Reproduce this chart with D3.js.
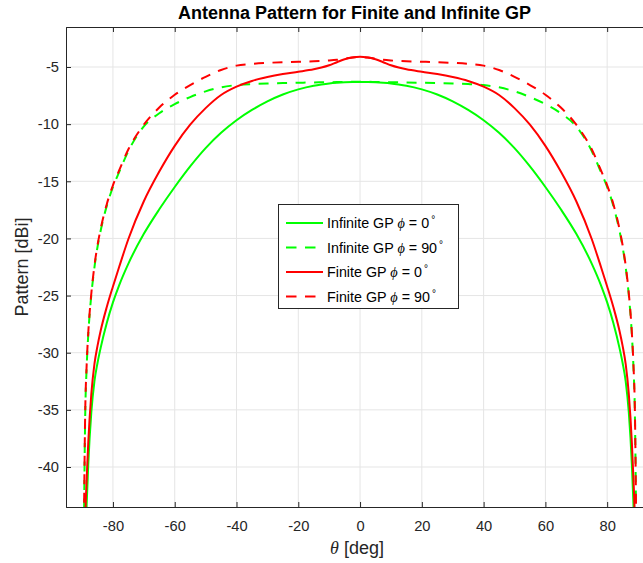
<!DOCTYPE html>
<html>
<head>
<meta charset="utf-8">
<script src="https://cdn.jsdelivr.net/npm/d3@7"></script>
<style>
  body { margin: 0; background: #fff; }
  text { font-family: "Liberation Sans", Arial, Helvetica, sans-serif; }
</style>
</head>
<body>
<svg id="chart" width="643" height="563"></svg>
<script>
// ---------- DATA ----------
// elevation angle theta [deg]
const theta = [-89.5,-89,-88.5,-88,-87,-86,-85,-84,-82,-80,-78,-75,-70,-65,-60,-55,-50,-45,-40,-35,-30,-25,-20,-15,-12.5,-10,-7.5,-5,-2.5,
               0,
               2.5,5,7.5,10,12.5,15,20,25,30,35,40,45,50,55,60,65,70,75,78,80,82,84,85,86,87,88,88.5,89,89.5];

const infiniteGP_phi0 = [-55,-48,-43.2,-39.8,-35.2,-32.5,-30.9,-29.6,-27.4,-25.6,-24.1,-22.2,-19.6,-17.45,-15.5,-13.7,-12.1,-10.76,-9.66,-8.76,-8.01,-7.41,-6.96,-6.64,-6.53,-6.44,-6.38,-6.34,-6.32,
                         -6.31,
                         -6.32,-6.34,-6.38,-6.44,-6.53,-6.64,-6.96,-7.41,-8.01,-8.76,-9.66,-10.76,-12.1,-13.7,-15.5,-17.45,-19.6,-22.2,-24.1,-25.6,-27.4,-29.6,-30.9,-32.5,-35.2,-39.8,-43.2,-48,-55];

const infiniteGP_phi90 = [-48.5,-35.8,-31.2,-28.45,-24.95,-22.55,-20.75,-19.35,-17.15,-15.5,-14.2,-12.35,-10.2,-9.05,-8.25,-7.63,-7.13,-6.78,-6.58,-6.49,-6.44,-6.41,-6.38,-6.35,-6.34,-6.33,-6.32,-6.31,-6.3,
                          -6.3,
                          -6.3,-6.31,-6.32,-6.33,-6.34,-6.35,-6.38,-6.41,-6.44,-6.49,-6.58,-6.78,-7.13,-7.63,-8.25,-9.05,-10.2,-12.35,-14.2,-15.5,-17.15,-19.35,-20.75,-22.55,-24.95,-28.45,-31.2,-35.8,-48.5];

const finiteGP_phi0 = [-54,-45,-41,-37.9,-33.6,-31.0,-29.4,-28.1,-26.0,-24.2,-22.5,-20.05,-16.75,-14.15,-11.9,-10.05,-8.6,-7.45,-6.72,-6.22,-5.88,-5.62,-5.42,-5.2,-5.05,-4.85,-4.58,-4.32,-4.17,
                       -4.10,
                       -4.17,-4.32,-4.58,-4.85,-5.05,-5.2,-5.42,-5.62,-5.88,-6.22,-6.72,-7.45,-8.6,-10.05,-11.9,-14.15,-16.75,-20.05,-22.5,-24.2,-26.0,-28.1,-29.4,-31.0,-33.6,-37.9,-41,-45,-54];

const finiteGP_phi90 = [-48,-35.5,-31.0,-28.3,-24.8,-22.4,-20.6,-19.2,-17.0,-15.35,-14.05,-12.2,-10.05,-8.55,-7.43,-6.58,-5.86,-5.26,-4.88,-4.73,-4.64,-4.58,-4.54,-4.5,-4.47,-4.43,-4.37,-4.27,-4.17,
                        -4.12,
                        -4.17,-4.27,-4.37,-4.43,-4.47,-4.5,-4.54,-4.58,-4.64,-4.73,-4.88,-5.26,-5.86,-6.58,-7.43,-8.55,-10.05,-12.2,-14.05,-15.35,-17.0,-19.2,-20.6,-22.4,-24.8,-28.3,-31.0,-35.5,-48];

const xTicks = [-80,-60,-40,-20,0,20,40,60,80];
const yTicks = [-40,-35,-30,-25,-20,-15,-10,-5];

const seriesNames = ["Infinite GP", "Infinite GP", "Finite GP", "Finite GP"];
const seriesPhi = ["0", "90", "0", "90"];
const seriesColors = ["#00ff00", "#00ff00", "#ff0000", "#ff0000"];
const seriesDashed = [false, true, false, true];

// ---------- LAYOUT ----------
const svg = d3.select("#chart");
const pL = 66, pR = 643, pT = 27, pB = 507;

const x = d3.scaleLinear().domain([-95.2, 91.6]).range([pL, pR]);
const y = d3.scaleLinear().domain([-43.5, -1.5]).range([pB, pT]);

const axisColor = "#262626";
const gridColor = "#e5e5e5";

svg.append("rect").attr("x", pL).attr("y", pT).attr("width", pR - pL).attr("height", pB - pT).attr("fill", "#fff");

// grid
const grid = svg.append("g");
grid.selectAll(".vg").data(xTicks).enter().append("line")
  .attr("x1", d => x(d)).attr("x2", d => x(d)).attr("y1", pT).attr("y2", pB)
  .attr("stroke", gridColor).attr("stroke-width", 1);
grid.selectAll(".hg").data(yTicks).enter().append("line")
  .attr("y1", d => y(d)).attr("y2", d => y(d)).attr("x1", pL).attr("x2", pR)
  .attr("stroke", gridColor).attr("stroke-width", 1);

// clip
svg.append("defs").append("clipPath").attr("id", "clip")
  .append("rect").attr("x", pL).attr("y", pT).attr("width", pR - pL).attr("height", pB - pT);

const allSeries = [infiniteGP_phi0, infiniteGP_phi90, finiteGP_phi0, finiteGP_phi90];
const line = d3.line().x(d => x(d[0])).y(d => y(d[1])).curve(d3.curveMonotoneX);

const plot = svg.append("g").attr("clip-path", "url(#clip)");
allSeries.forEach((vals, i) => {
  plot.append("path")
    .datum(theta.map((t, k) => [t, vals[k]]))
    .attr("d", line)
    .attr("fill", "none")
    .attr("stroke", seriesColors[i])
    .attr("stroke-width", 2)
    .attr("stroke-dasharray", seriesDashed[i] ? "10,8.5" : null);
});

// axes
const xAxisB = d3.axisBottom(x).tickValues(xTicks).tickSize(-5).tickPadding(14).tickFormat(d3.format("d"));
const xAxisT = d3.axisTop(x).tickValues(xTicks).tickSize(-5).tickFormat("");
const yAxisL = d3.axisLeft(y).tickValues(yTicks).tickSize(-5).tickPadding(7).tickFormat(d3.format("d"));

function styleAxis(g) {
  g.select(".domain").attr("stroke", axisColor).attr("stroke-width", 1);
  g.selectAll(".tick line").attr("stroke", axisColor);
  g.selectAll(".tick text").attr("fill", "#262626").attr("font-size", 14.7)
   .attr("font-family", "'Liberation Sans', Arial, sans-serif");
}
svg.append("g").attr("transform", `translate(0,${pB})`).call(xAxisB).call(styleAxis);
svg.append("g").attr("transform", `translate(0,${pT})`).call(xAxisT).call(styleAxis);
svg.append("g").attr("transform", `translate(${pL},0)`).call(yAxisL).call(styleAxis);

svg.selectAll(".tick text").text(function() { return d3.select(this).text().replace("−", "-"); });

// title
svg.append("text").attr("x", (pL + pR) / 2).attr("y", 19)
  .attr("text-anchor", "middle").attr("font-weight", "bold").attr("font-size", 18)
  .attr("fill", "#000").text("Antenna Pattern for Finite and Infinite GP");

// x label
const xl = svg.append("text").attr("x", 357).attr("y", 554).attr("text-anchor", "middle")
  .attr("font-size", 18).attr("fill", "#262626");
xl.append("tspan").attr("font-style", "italic").attr("font-family", "'Liberation Serif', serif").text("θ");
xl.append("tspan").text(" [deg]");

// y label
svg.append("text").attr("transform", "translate(28,267) rotate(-90)").attr("text-anchor", "middle")
  .attr("font-size", 18).attr("fill", "#262626").text("Pattern [dBi]");

// legend
const lg = svg.append("g");
lg.append("rect").attr("x", 278.5).attr("y", 204.5).attr("width", 180).attr("height", 104)
  .attr("fill", "#fff").attr("stroke", axisColor).attr("stroke-width", 1);
const rowY = [223, 247.5, 272, 296.5];
seriesNames.forEach((name, i) => {
  lg.append("line").attr("x1", 286).attr("x2", 323).attr("y1", rowY[i]).attr("y2", rowY[i])
    .attr("stroke", seriesColors[i]).attr("stroke-width", 2)
    .attr("stroke-dasharray", seriesDashed[i] ? "10.5,8.5" : null);
  const t = lg.append("text").attr("x", 327).attr("y", rowY[i] + 5).attr("font-size", 14.3).attr("fill", "#000");
  t.append("tspan").text(name + " ");
  t.append("tspan").attr("font-style", "italic").attr("font-family", "'Liberation Serif', serif").text("ϕ");
  t.append("tspan").text(" = " + seriesPhi[i]);
  t.append("tspan").attr("dx", 2).attr("dy", -5).attr("font-size", 10).text("°");
});
</script>
</body>
</html>
